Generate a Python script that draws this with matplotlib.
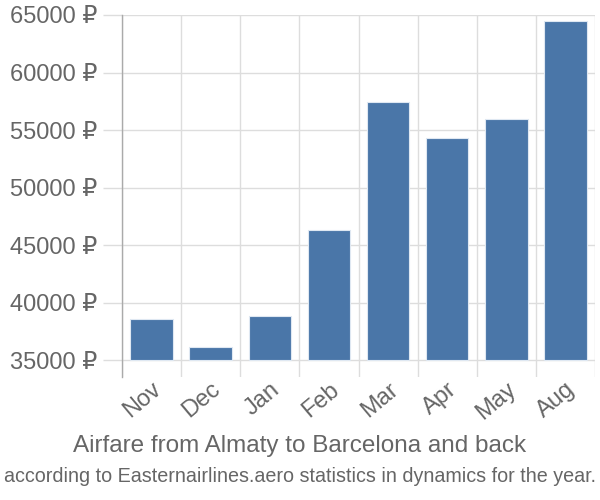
import matplotlib
matplotlib.use("Agg")
import matplotlib.pyplot as plt
from matplotlib import font_manager as fm
import numpy as np

months = ["Nov", "Dec", "Jan", "Feb", "Mar", "Apr", "May", "Aug"]
prices = [38550, 36130, 38850, 46350, 57400, 54350, 56000, 64450]
yticks = [35000, 40000, 45000, 50000, 55000, 60000, 65000]
base = 35000

try:
    fm.findfont(fm.FontProperties(family="Liberation Sans Narrow"), fallback_to_default=False)
    narrow = "Liberation Sans Narrow"
    sub_size = 14.5
except Exception:
    narrow = "Liberation Sans"
    sub_size = 14.2

fam = ["Liberation Sans", "DejaVu Sans"]
grey = "#666666"

fig = plt.figure(figsize=(6, 5), dpi=100)
ax = fig.add_axes([122/600, 1-377/500, (595-122)/600, (377-15)/500])

x = np.arange(len(months))
ax.bar(x, np.array(prices) - base, bottom=base, width=0.72, color="#4a76a8",
       edgecolor="#dfe8f2", linewidth=0.8, zorder=3)

ax.set_xlim(-0.5, len(months) - 0.5)
ax.set_ylim(33550, 65000)

ax.set_yticks(yticks)
ax.set_yticklabels([f"{v} ₽" for v in yticks], fontsize=17, color=grey, family=fam)
ax.set_xticks(x)
ax.set_xticklabels(months, rotation=40, ha="right", rotation_mode="anchor", fontsize=17, color=grey, family=fam)
ax.set_xticks(np.arange(-0.5, len(months)), minor=True)

ax.tick_params(axis="x", which="major", length=0, pad=1)
ax.tick_params(axis="x", which="minor", length=0)
ax.tick_params(axis="y", length=14, color="#dddddd", width=1, pad=4)

ax.grid(axis="y", which="major", color="#dddddd", linewidth=1, zorder=0)
ax.grid(axis="x", which="minor", color="#dddddd", linewidth=1, zorder=0)

for s in ["top", "right", "bottom"]:
    ax.spines[s].set_visible(False)
ax.spines["left"].set_color("#aaaaaa")
ax.spines["left"].set_linewidth(1)

fig.text(0.5, 1-446/500, "Airfare from Almaty to Barcelona and back", ha="center", va="center",
         fontsize=17.5, color=grey, family=fam)
fig.text(0.5, 1-476/500, "according to Easternairlines.aero statistics in dynamics for the year.", ha="center", va="center",
         fontsize=sub_size, color=grey, family=[narrow, "DejaVu Sans"])

fig.savefig("out.png", dpi=100)
